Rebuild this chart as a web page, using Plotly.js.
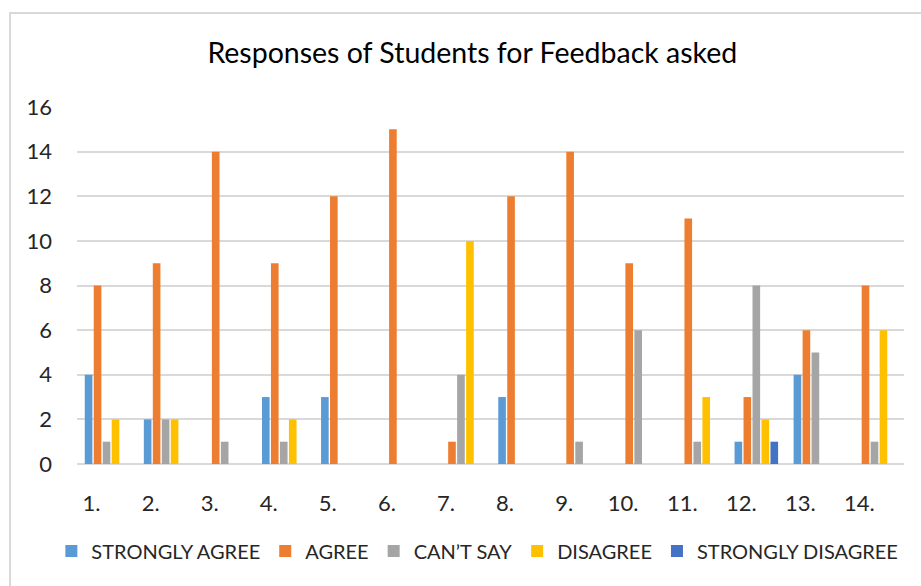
<!DOCTYPE html>
<html><head><meta charset="utf-8">
<script src="https://cdn.plot.ly/plotly-3.0.1.min.js"></script>
<style>
body{margin:0;background:#fff;overflow:hidden}
#chart{width:921px;height:586px}
#frame{position:absolute;left:9px;top:12px;width:940px;height:600px;border-left:2px solid #d9d9d9;border-top:2px solid #d9d9d9;pointer-events:none}
</style>
</head><body><div id="chart"></div><div id="frame"></div>
<script>
const categories = ['1.','2.','3.','4.','5.','6.','7.','8.','9.','10.','11.','12.','13.','14.'];
const seriesNames = ['STRONGLY AGREE','AGREE','CAN\u2019T SAY','DISAGREE','STRONGLY DISAGREE'];
const stronglyAgree    = [4,2,0,3,3,0,0,3,0,0,0,1,4,0];
const agree            = [8,9,14,9,12,15,1,12,14,9,11,3,6,8];
const cantSay          = [1,2,1,1,0,0,4,0,1,6,1,8,5,1];
const disagree         = [2,2,0,2,0,0,10,0,0,0,3,2,0,6];
const stronglyDisagree = [0,0,0,0,0,0,0,0,0,0,0,1,0,0];
const colors = ['#5B9BD5','#ED7D31','#A5A5A5','#FFC000','#4472C4'];
const values = [stronglyAgree, agree, cantSay, disagree, stronglyDisagree];

const FONT = 'Lato, Carlito, Calibri, sans-serif';
const traces = values.map((v,i)=>({
  type:'bar', x:categories, y:v, name:seriesNames[i],
  marker:{color:colors[i]}, hoverinfo:'x+y+name'
}));

const layout = {
  width:921, height:586,
  margin:{l:77, r:17, t:107, b:122, pad:0},
  paper_bgcolor:'#fff', plot_bgcolor:'#fff',
  font:{family:FONT, color:'#262626', size:20},
  title:{text:'Responses of Students for Feedback asked', font:{family:FONT, size:28.5, color:'#000'},
         x:0.478, xref:'paper', xanchor:'center', y:1-53/586, yref:'container', yanchor:'middle'},
  barmode:'group', bargap:0.24, bargroupgap:0.15,
  xaxis:{type:'category', showgrid:false, zeroline:false, showline:false, ticks:'',
         tickfont:{family:FONT, size:22, color:'#262626'}, ticklabelshift:-15, ticklabelstandoff:24},
  yaxis:{range:[0,16], dtick:2, tick0:0, showgrid:true, gridcolor:'#D9D9D9', gridwidth:2,
         zeroline:true, zerolinecolor:'#D9D9D9', zerolinewidth:2, showline:false, ticks:'',
         tickfont:{family:FONT, size:22, color:'#262626'}, ticklabelstandoff:24},
  legend:{orientation:'h', x:-0.031, xanchor:'left', y:-0.244, yanchor:'middle',
          font:{family:FONT, size:20, color:'#262626'}, traceorder:'normal', itemwidth:30},
  showlegend:true
};
Plotly.newPlot('chart', traces, layout, {displayModeBar:false, staticPlot:true});
</script>
</body></html>
